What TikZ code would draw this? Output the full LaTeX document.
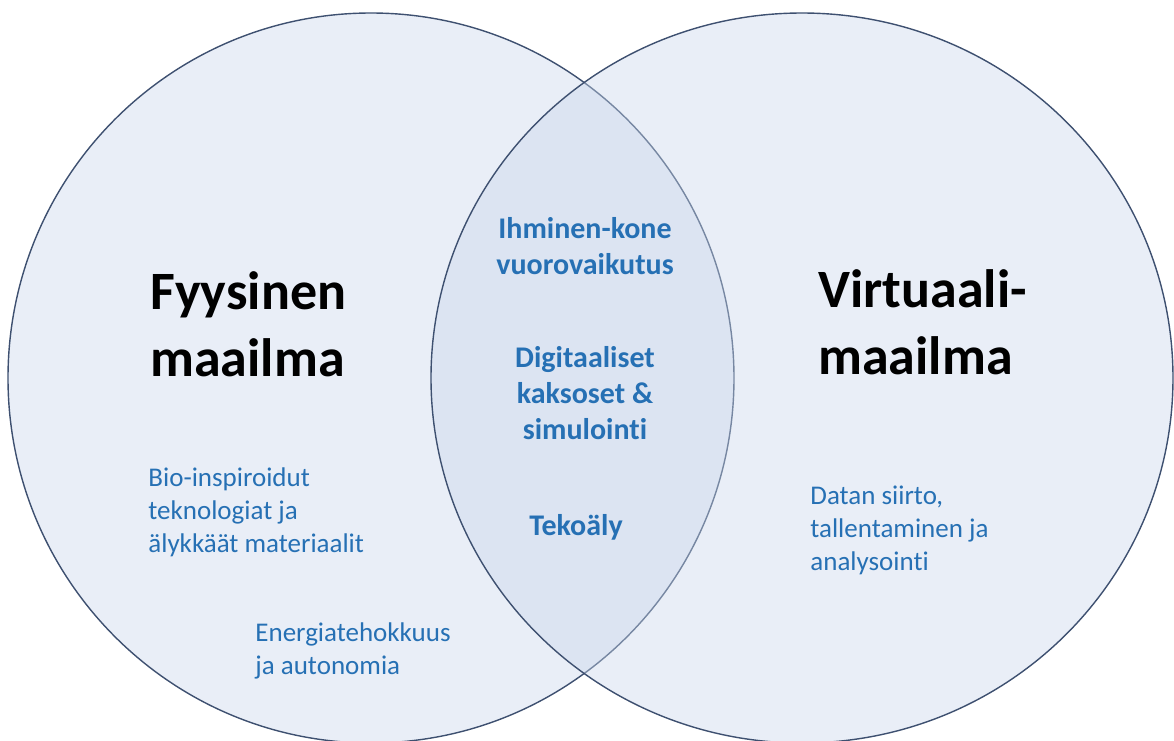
\documentclass[tikz,border=0pt]{standalone}
\usepackage{fontspec}
\setmainfont{Carlito}[Ligatures={NoCommon,NoContextual}]
\definecolor{worldfill}{RGB}{201,214,235}
\definecolor{worldline}{RGB}{62,80,112}
\definecolor{textblue}{RGB}{38,112,180}

\begin{document}
\begin{tikzpicture}[x=0.5pt, y=-0.5pt,
	world/.style={draw=worldline, line width=0.7pt, fill=worldfill, fill opacity=0.41},
	title/.style={font=\fontsize{27}{33.5}\selectfont\bfseries, align=left, anchor=west, inner sep=0pt},
	core/.style={font=\fontsize{15}{18}\selectfont\bfseries, text=textblue, align=center, inner sep=0pt},
	topic/.style={font=\fontsize{13.5}{16.5}\selectfont, text=textblue, align=left, anchor=west, inner sep=0pt}]
		\useasboundingbox (0,0) rectangle (1174,740);
		\clip (0,0) rectangle (1174,740);
		\coordinate (fys) at (371,378);
		\coordinate (virt) at (802,378);
		\draw[world] (fys) ellipse [x radius=363, y radius=365];
		\draw[world] (virt) ellipse [x radius=371, y radius=365];
		\node[title] (fysTitle) at (150,324) {Fyysinen\\maailma};
		\node[title] (virtTitle) at (818,322) {Virtuaali-\\maailma};
		\node[core] (hmi) at (585,246) {Ihminen-kone\\vuorovaikutus};
		\node[core] (twin) at (585,393) {Digitaaliset\\kaksoset \&\\simulointi};
		\node[core] (ai) at (576,527) {Tekoäly};
		\node[topic] (bio) at (148,512) {Bio-inspiroidut\\teknologiat ja\\älykkäät materiaalit};
		\node[topic] (energy) at (255,651) {Energiatehokkuus\\ja autonomia};
		\node[topic] (data) at (810,530) {Datan siirto,\\tallentaminen ja\\analysointi};
	\end{tikzpicture}
\end{document}
